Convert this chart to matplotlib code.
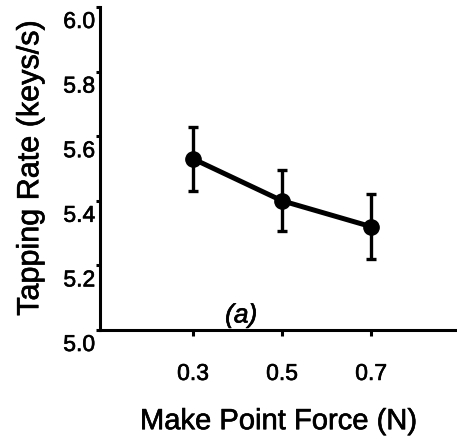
import matplotlib
matplotlib.use("Agg")
import matplotlib.pyplot as plt
import matplotlib.patheffects as pe
from matplotlib.transforms import ScaledTranslation

plt.rcParams["font.family"] = ["Liberation Sans", "DejaVu Sans"]

# make point force (N) and mean tapping rate with error bars
force = [0.3, 0.5, 0.7]
tap_rate = [5.53, 5.40, 5.32]
tap_err = [0.10, 0.095, 0.10]

y_ticks = [5.0, 5.2, 5.4, 5.6, 5.8, 6.0]
y_tick_labels = ["5.0", "5.2", "5.4", "5.6", "5.8", "6.0"]

fig = plt.figure(figsize=(4.57, 4.45), dpi=100)
ax = fig.add_axes([0.2188, 0.2584, 0.7812, 0.7259])

ax.errorbar(force, tap_rate, yerr=tap_err, color="black", linewidth=3.6,
            marker="o", markersize=11, elinewidth=2.4, capsize=3.5,
            capthick=2.4)

ax.set_xlim(0.091, 0.893)
ax.set_ylim(5.0, 6.0)
ax.set_xticks(force)
ax.set_xticklabels(["0.3", "0.5", "0.7"])
ax.set_yticks(y_ticks)
ax.set_yticklabels(y_tick_labels)

for side in ["top", "right"]:
    ax.spines[side].set_visible(False)
for side in ["left", "bottom"]:
    ax.spines[side].set_linewidth(2.2)

ax.tick_params(axis="x", direction="out", length=4, width=2.2,
               labelsize=16.5, pad=19)
ax.tick_params(axis="y", direction="out", length=3, width=2.2,
               labelsize=16.5, pad=0.5)

# slightly heavier strokes, like the printed figure
thick = [pe.withStroke(linewidth=0.45, foreground="black")]
shift = ScaledTranslation(0, -3 / 100, fig.dpi_scale_trans)
for lab in ax.get_yticklabels():
    lab.set_verticalalignment("top")
    lab.set_transform(lab.get_transform() + shift)
    lab.set_path_effects(thick)
for lab in ax.get_xticklabels():
    lab.set_path_effects(thick)

ax.set_xlabel("Make Point Force (N)", fontsize=21, labelpad=16,
              path_effects=thick)
ax.set_ylabel("Tapping Rate (keys/s)", fontsize=22, labelpad=13,
              path_effects=thick)

ax.text(0.408, 5.045, "(a)", fontsize=19, style="italic",
        ha="center", va="center", path_effects=thick)

fig.savefig("out.png", dpi=100)
